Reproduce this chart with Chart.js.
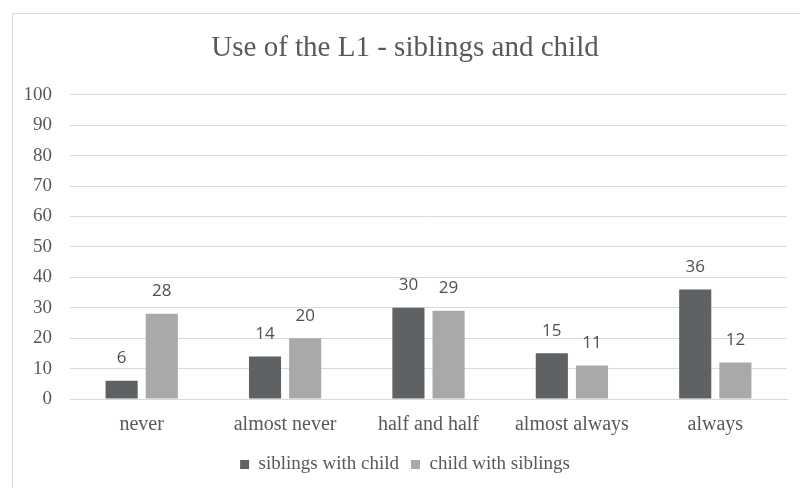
<!DOCTYPE html>
<html>
<head>
<meta charset="utf-8">
<script src="https://cdn.jsdelivr.net/npm/chart.js@4/dist/chart.umd.min.js"></script>
<style>
    html, body { margin: 0; padding: 0; background: #fff; }
    #frame {
        position: absolute; left: 12px; top: 13px;
        width: 800px; height: 480px;
        border: 1px solid #d9d9d9; box-sizing: border-box;
    }
    #chart { position: absolute; left: 0; top: 0; }
</style>
</head>
<body>
<div id="frame"></div>
<canvas id="chart" width="800" height="488"></canvas>
<script>
// answers per category
const categories = ['never', 'almost never', 'half and half', 'almost always', 'always'];
const siblingsWithChild = [6, 14, 30, 15, 36];
const childWithSiblings = [28, 20, 29, 11, 12];
const seriesNames = ['siblings with child', 'child with siblings'];

const serif = "'Liberation Serif', 'DejaVu Serif', serif";
const textColor = '#595959';

// numbers above each bar
const valueLabels = {
    id: 'valueLabels',
    afterDatasetsDraw(chart) {
        const ctx = chart.ctx;
        ctx.save();
        ctx.font = "17px 'Open Sans', 'Liberation Sans', sans-serif";
        ctx.fillStyle = '#505050';
        ctx.textAlign = 'center';
        ctx.textBaseline = 'bottom';
        chart.data.datasets.forEach((ds, i) => {
            chart.getDatasetMeta(i).data.forEach((bar, j) => {
                ctx.fillText(ds.data[j], bar.x, bar.y - 14);
            });
        });
        ctx.restore();
    }
};

new Chart(document.getElementById('chart'), {
    type: 'bar',
    data: {
        labels: categories,
        datasets: [
            {
                label: seriesNames[0],
                data: siblingsWithChild,
                backgroundColor: '#5f6264'
            },
            {
                label: seriesNames[1],
                data: childWithSiblings,
                backgroundColor: '#a8a9aa'
            }
        ]
    },
    options: {
        responsive: false,
        animation: false,
        categoryPercentage: 0.56,
        barPercentage: 0.8,
        layout: { padding: { left: 23, right: 13, top: 20, bottom: 4 } },
        plugins: {
            title: {
                display: true,
                text: 'Use of the L1 - siblings and child',
                color: textColor,
                font: { family: serif, size: 29, weight: 'normal' },
                padding: { top: 11, bottom: 29 }
            },
            legend: {
                position: 'bottom',
                labels: {
                    color: textColor,
                    font: { family: serif, size: 19 },
                    boxWidth: 9,
                    boxHeight: 9,
                    padding: 12
                }
            },
            tooltip: { enabled: false }
        },
        scales: {
            x: {
                grid: { display: false },
                border: { color: '#d9d9d9' },
                ticks: {
                    color: textColor,
                    font: { family: serif, size: 20 },
                    padding: 6
                }
            },
            y: {
                min: 0,
                max: 100,
                afterFit(scale) {
                    scale.width = 47;
                },
                ticks: {
                    stepSize: 10,
                    color: textColor,
                    font: { family: serif, size: 19 },
                    padding: 18
                },
                grid: { color: '#d9d9d9', drawTicks: false },
                border: { display: false }
            }
        }
    },
    plugins: [valueLabels]
});
</script>
</body>
</html>
